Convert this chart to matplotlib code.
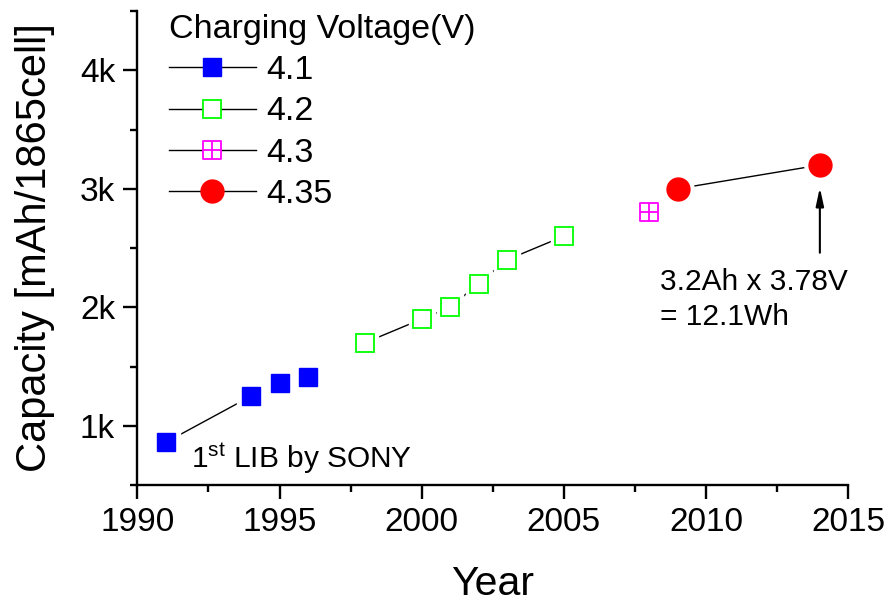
import matplotlib
matplotlib.use("Agg")
import matplotlib.pyplot as plt
from matplotlib.path import Path
from matplotlib.lines import Line2D
from matplotlib.ticker import FixedLocator, FixedFormatter, MultipleLocator

plt.rcParams['font.family'] = ['Liberation Sans', 'DejaVu Sans']
plt.rcParams['mathtext.fontset'] = 'custom'
plt.rcParams['mathtext.rm'] = 'Liberation Sans'
plt.rcParams['mathtext.it'] = 'Liberation Sans:italic'

# ---- data ----
years_41 = [1991, 1994, 1995, 1996]
cap_41 = [860, 1250, 1360, 1410]
years_42 = [1998, 2000, 2001, 2002, 2003, 2005]
cap_42 = [1700, 1900, 2000, 2200, 2400, 2600]
years_43 = [2008]
cap_43 = [2800]
years_435 = [2009, 2014]
cap_435 = [3000, 3200]

series_labels = ['4.1', '4.2', '4.3', '4.35']
legend_title = 'Charging Voltage(V)'
ytick_vals = [1000, 2000, 3000, 4000]
ytick_labels = ['1k', '2k', '3k', '4k']
xtick_vals = [1990, 1995, 2000, 2005, 2010, 2015]

# square with a cross inside (marker for 4.3 V)
box_cross = Path(
    [(-1, -1), (1, -1), (1, 1), (-1, 1), (-1, -1),
     (0, -1), (0, 1), (-1, 0), (1, 0)],
    [Path.MOVETO, Path.LINETO, Path.LINETO, Path.LINETO, Path.CLOSEPOLY,
     Path.MOVETO, Path.LINETO, Path.MOVETO, Path.LINETO])

fig = plt.figure(figsize=(8.92, 6.06), dpi=100)
ax = fig.add_axes([137.3 / 892, 1 - 485 / 606, (848.3 - 137.3) / 892, (485 - 11) / 606])

styles = [
    dict(marker='s', ms=13.5, mfc='#0000ff', mec='#0000ff', mew=1.0),
    dict(marker='s', ms=13.0, mfc='white', mec='#00ff00', mew=1.3),
    dict(marker=box_cross, ms=13.0, mfc='white', mec='#ff00ff', mew=1.3),
    dict(marker='o', ms=16.5, mfc='#ff0000', mec='#ff0000', mew=1.0),
]
halo_marker = ['s', 's', 's', 'o']
data = [(years_41, cap_41), (years_42, cap_42), (years_43, cap_43), (years_435, cap_435)]

for (xs, ys), st, hm in zip(data, styles, halo_marker):
    ax.plot(xs, ys, color='black', lw=1.0, zorder=2)
    ax.plot(xs, ys, ls='none', marker=hm, ms=st['ms'] + 6, mfc='white', mec='white', zorder=3)
    ax.plot(xs, ys, ls='none', zorder=4, **st)

ax.set_xlim(1990, 2015)
ax.set_ylim(500, 4500)

ax.xaxis.set_major_locator(FixedLocator(xtick_vals))
ax.xaxis.set_minor_locator(MultipleLocator(2.5))
ax.yaxis.set_major_locator(FixedLocator(ytick_vals))
ax.yaxis.set_major_formatter(FixedFormatter(ytick_labels))
ax.yaxis.set_minor_locator(MultipleLocator(500))

for side in ['top', 'right']:
    ax.spines[side].set_visible(False)
for side in ['left', 'bottom']:
    ax.spines[side].set_linewidth(1.7)

ax.tick_params(which='major', direction='out', length=10, width=1.7, labelsize=24, pad=6)
ax.tick_params(which='minor', direction='out', length=5, width=1.7)
ax.tick_params(axis='y', which='major', pad=6)

ax.set_xlabel('Year', fontsize=29.5, labelpad=19)
ax.set_ylabel('Capacity [mAh/1865cell]', fontsize=30, labelpad=18)

# legend
handles = [Line2D([], [], color='black', lw=1.0, **st) for st in styles]
leg = ax.legend(handles, series_labels, title=legend_title, loc='upper left',
                bbox_to_anchor=(169 / 892, 1 - 14 / 606), bbox_transform=fig.transFigure,
                frameon=False, fontsize=24.5, title_fontsize=24.5, handlelength=2.55,
                handletextpad=0.3, labelspacing=0.3, borderpad=0, borderaxespad=0,
                alignment='left')

# annotations
ax.text(1991.9, 643, r'1$^{\mathrm{st}}$ LIB by SONY', fontsize=21.5, ha='left', va='baseline')
ax.annotate('', xy=(2014, 3010), xytext=(2014, 2460),
            arrowprops=dict(arrowstyle='-|>,head_length=0.6,head_width=0.13',
                            mutation_scale=18, color='black', lw=1.5, shrinkA=0, shrinkB=0))
ax.text(2008.38, 2146, '3.2Ah x 3.78V', fontsize=21.5, ha='left', va='baseline')
ax.text(2008.38, 1850, '= 12.1Wh', fontsize=21.5, ha='left', va='baseline')

fig.savefig('out.png', dpi=100)
